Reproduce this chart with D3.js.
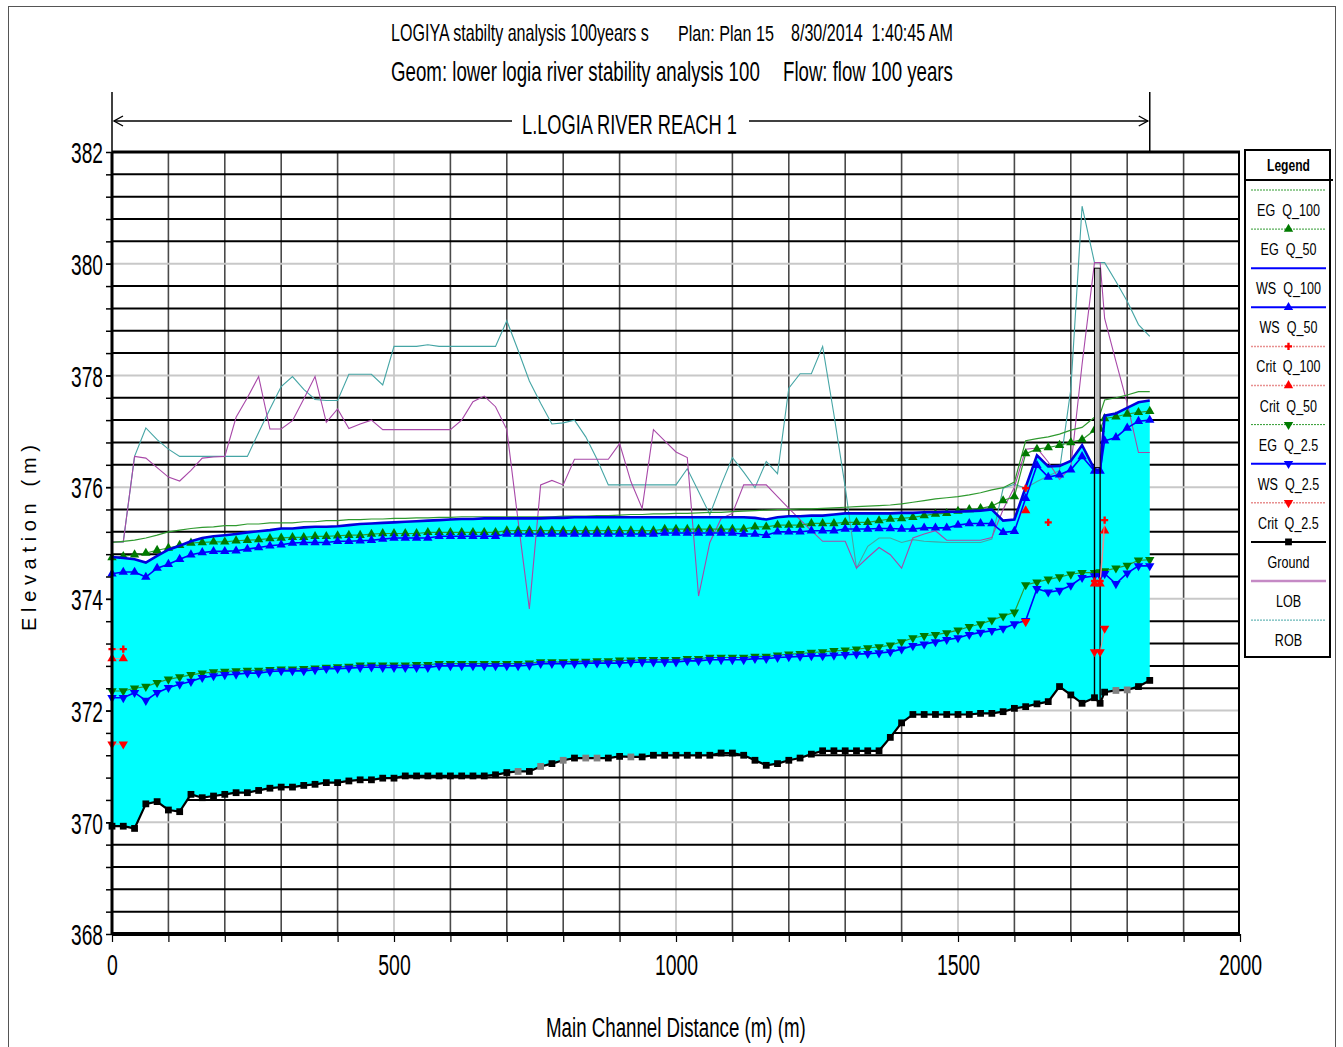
<!DOCTYPE html>
<html><head><meta charset="utf-8">
<script src="https://cdn.jsdelivr.net/npm/d3@7"></script>
<style>
body{margin:0;background:#fff;}
svg{display:block;}
text{font-family:"Liberation Sans",Arial,sans-serif;fill:#000;}
</style></head><body>
<svg id="chart" width="1343" height="1047"></svg>
<script>
// River stations along the main channel (m)
const stations = [
  0,20,40,60,80,100,120,140,160,180,
  200,220,240,260,280,300,320,340,360,380,
  400,420,440,460,480,500,520,540,560,580,
  600,620,640,660,680,700,720,740,760,780,
  800,820,840,860,880,900,920,940,960,980,
  1000,1020,1040,1060,1080,1100,1120,1140,1160,1180,
  1200,1220,1240,1260,1280,1300,1320,1340,1360,1380,
  1400,1420,1440,1460,1480,1500,1520,1540,1560,1580,
  1600,1620,1640,1660,1680,1700,1720,1742,1752,1760,
  1780,1800,1820,1840];

// Channel invert (m)
const ground = [
  369.93,369.93,369.89,370.33,370.37,370.22,370.19,370.50,370.44,370.47,
  370.50,370.53,370.53,370.57,370.61,370.63,370.63,370.66,370.68,370.71,
  370.71,370.74,370.76,370.76,370.79,370.79,370.83,370.83,370.83,370.83,
  370.83,370.83,370.83,370.83,370.85,370.89,370.91,370.91,371.00,371.05,
  371.11,371.15,371.15,371.15,371.15,371.18,371.17,371.17,371.20,371.20,
  371.20,371.20,371.20,371.20,371.24,371.24,371.20,371.11,371.02,371.05,
  371.11,371.15,371.22,371.28,371.28,371.28,371.28,371.28,371.28,371.52,
  371.78,371.93,371.93,371.93,371.93,371.93,371.93,371.95,371.95,371.98,
  372.04,372.07,372.12,372.16,372.43,372.28,372.13,372.23,372.13,372.33,
  372.36,372.37,372.43,372.54];

// Interpolated cross sections (drawn with grey ground markers)
const interpolatedSections = [720,760,800,840,860,920,1780,1800];

// Water surface, Q_100 (m)
const wsQ100 = [
  374.75,374.73,374.71,374.65,374.77,374.88,374.95,375.03,375.09,375.12,
  375.14,375.16,375.19,375.21,375.23,375.26,375.26,375.28,375.29,375.29,
  375.30,375.32,375.34,375.35,375.36,375.37,375.38,375.39,375.40,375.41,
  375.42,375.43,375.43,375.44,375.44,375.44,375.44,375.44,375.44,375.45,
  375.45,375.46,375.46,375.46,375.46,375.46,375.46,375.46,375.46,375.46,
  375.46,375.46,375.46,375.46,375.46,375.46,375.46,375.45,375.42,375.46,
  375.48,375.48,375.49,375.49,375.51,375.53,375.53,375.53,375.53,375.53,
  375.54,375.54,375.55,375.55,375.56,375.56,375.57,375.58,375.60,375.40,
  375.42,376.00,376.57,376.37,376.38,376.47,376.75,376.32,376.30,377.28,
  377.32,377.42,377.52,377.55];

// Energy grade, Q_100 (m)
const egQ100 = [
  375.01,375.03,375.05,375.09,375.14,375.20,375.23,375.26,375.28,375.29,
  375.31,375.31,375.34,375.34,375.36,375.36,375.36,375.38,375.38,375.40,
  375.40,375.42,375.42,375.43,375.43,375.44,375.44,375.45,375.45,375.46,
  375.46,375.47,375.47,375.47,375.47,375.47,375.47,375.47,375.47,375.47,
  375.48,375.48,375.48,375.49,375.49,375.50,375.51,375.51,375.52,375.52,
  375.53,375.53,375.54,375.55,375.55,375.56,375.57,375.58,375.59,375.60,
  375.60,375.61,375.61,375.62,375.63,375.64,375.65,375.66,375.67,375.68,
  375.70,375.73,375.76,375.79,375.81,375.83,375.86,375.90,375.95,375.99,
  376.09,376.83,376.87,376.90,376.95,377.02,377.07,377.25,377.31,377.56,
  377.60,377.65,377.71,377.71];

// Energy grade, Q_50 (m)
const egQ50 = [
  374.74,374.76,374.79,374.82,374.87,374.91,374.96,375.00,375.01,375.02,
  375.02,375.04,375.05,375.06,375.08,375.09,375.10,375.10,375.12,375.12,
  375.13,375.14,375.14,375.16,375.17,375.17,375.17,375.17,375.19,375.19,
  375.19,375.19,375.19,375.19,375.19,375.22,375.22,375.22,375.22,375.22,
  375.22,375.22,375.22,375.22,375.22,375.22,375.22,375.22,375.22,375.25,
  375.25,375.25,375.25,375.25,375.25,375.25,375.25,375.29,375.29,375.32,
  375.32,375.32,375.35,375.35,375.35,375.37,375.37,375.37,375.40,375.43,
  375.44,375.46,375.49,375.52,375.53,375.57,375.60,375.62,375.66,375.76,
  375.83,376.60,376.68,376.71,376.75,376.80,376.85,377.02,377.04,377.23,
  377.26,377.31,377.34,377.36];

// Water surface, Q_50 (m)
const wsQ50 = [
  374.45,374.48,374.48,374.39,374.55,374.62,374.71,374.79,374.83,374.85,
  374.85,374.86,374.89,374.92,374.95,374.97,375.00,375.01,375.01,375.01,
  375.03,375.03,375.04,375.05,375.07,375.09,375.09,375.09,375.09,375.12,
  375.12,375.12,375.12,375.12,375.12,375.16,375.16,375.16,375.16,375.16,
  375.16,375.16,375.16,375.16,375.16,375.16,375.16,375.16,375.16,375.18,
  375.18,375.18,375.18,375.18,375.18,375.18,375.16,375.16,375.14,375.20,
  375.20,375.20,375.22,375.22,375.22,375.25,375.25,375.25,375.26,375.26,
  375.25,375.25,375.27,375.27,375.27,375.32,375.35,375.35,375.35,375.19,
  375.21,375.80,376.39,376.18,376.22,376.31,376.55,376.29,376.29,376.83,
  376.89,377.06,377.18,377.20];

// Energy grade, Q_2.5 (m)
const egQ25 = [
  372.35,372.35,372.40,372.43,372.50,372.56,372.60,372.64,372.67,372.69,
  372.70,372.71,372.72,372.72,372.73,372.74,372.74,372.75,372.76,372.77,
  372.78,372.79,372.81,372.81,372.81,372.81,372.81,372.82,372.82,372.84,
  372.84,372.84,372.84,372.84,372.84,372.84,372.84,372.85,372.87,372.87,
  372.87,372.88,372.88,372.89,372.89,372.90,372.90,372.91,372.91,372.91,
  372.91,372.93,372.93,372.95,372.95,372.95,372.95,372.97,372.97,372.99,
  373.01,373.02,373.04,373.05,373.07,373.08,373.10,373.12,373.14,373.17,
  373.23,373.30,373.34,373.36,373.39,373.44,373.50,373.55,373.62,373.69,
  373.76,374.25,374.30,374.35,374.39,374.44,374.47,374.47,374.48,374.50,
  374.55,374.60,374.69,374.70];

// Water surface, Q_2.5 (m)
const wsQ25 = [
  372.23,372.23,372.32,372.18,372.32,372.41,372.47,372.52,372.59,372.62,
  372.64,372.65,372.67,372.67,372.70,372.71,372.71,372.71,372.73,372.75,
  372.75,372.76,372.77,372.78,372.77,372.77,372.77,372.77,372.77,372.80,
  372.80,372.80,372.80,372.80,372.80,372.80,372.80,372.81,372.84,372.84,
  372.84,372.84,372.85,372.85,372.85,372.85,372.86,372.87,372.87,372.87,
  372.87,372.89,372.89,372.91,372.91,372.91,372.91,372.93,372.93,372.95,
  372.96,372.97,372.98,372.98,372.99,373.00,373.01,373.02,373.03,373.05,
  373.10,373.16,373.19,373.23,373.27,373.30,373.36,373.40,373.43,373.47,
  373.55,373.61,374.18,374.12,374.15,374.24,374.38,374.41,374.41,374.45,
  374.27,374.46,374.59,374.59];

// Critical depth elevations, only where computed
const critQ100Stations = [0,20,1620,1660,1742,1752,1760];
const critQ100 = [373.10,373.10,375.98,375.37,374.32,374.32,375.41];
const critQ50Stations = [0,20,1620,1742,1752,1760];
const critQ50 = [372.93,372.93,375.58,374.27,374.27,375.22];
const critQ25Stations = [0,20,1620,1742,1752,1760];
const critQ25 = [371.40,371.40,373.59,373.05,373.05,373.47];

// Left and right overbank stations (m)
const lob = [
  375.02,375.02,376.55,376.52,376.35,376.18,376.11,376.30,376.52,376.54,
  376.55,377.25,377.60,377.98,377.04,377.04,377.19,377.58,377.98,377.16,
  377.40,377.05,377.13,377.20,377.03,377.03,377.03,377.03,377.03,377.03,
  377.03,377.20,377.53,377.63,377.44,377.03,375.40,373.82,376.04,376.12,
  376.04,376.50,376.50,376.50,376.50,376.78,376.10,375.62,377.03,376.83,
  376.63,376.53,374.05,375.01,375.44,375.53,376.04,376.04,376.04,375.83,
  375.62,375.42,375.22,375.03,375.03,375.03,374.55,374.74,374.92,374.79,
  374.55,375.09,375.16,375.22,375.05,375.05,375.05,375.05,375.10,375.60,
  376.00,376.68,376.70,376.45,376.14,376.35,378.20,380.02,380.02,379.02,
  378.25,377.50,376.62,376.62];
const rob = [
  375.02,375.02,376.55,377.06,376.85,376.68,376.55,376.55,376.55,376.55,
  376.55,376.55,376.55,376.98,377.40,377.80,377.98,377.75,377.57,377.55,
  377.55,378.02,378.02,378.02,377.83,378.52,378.52,378.52,378.55,378.52,
  378.52,378.52,378.52,378.52,378.52,378.98,378.45,377.90,377.50,377.13,
  377.15,377.20,376.90,376.50,376.04,376.04,376.04,376.04,376.04,376.04,
  376.04,376.33,375.92,375.51,376.04,376.53,376.27,375.99,376.46,376.24,
  377.77,378.03,378.03,378.52,377.30,376.00,374.55,374.94,375.09,375.09,
  375.01,375.06,375.03,375.02,375.01,375.01,375.01,375.01,375.07,375.98,
  376.05,375.98,376.10,376.20,376.30,377.75,381.03,380.02,380.02,380.02,
  379.68,379.33,378.91,378.70];

// Bridge deck (faces at two stations)
const bridgeStations = [1742, 1752];
const bridgeChords = [376.35, 379.92]; // low chord, high chord

// Axis ticks
const xTicks = [0, 500, 1000, 1500, 2000];
const yTicks = [368, 370, 372, 374, 376, 378, 380, 382];

const legendLabels = ["EG  Q_100","EG  Q_50","WS  Q_100","WS  Q_50","Crit  Q_100","Crit  Q_50",
  "EG  Q_2.5","WS  Q_2.5","Crit  Q_2.5","Ground","LOB","ROB"];

// ---------------------------------------------------------------
const svg = d3.select("#chart");
const x = d3.scaleLinear().domain([0, 2000]).range([112, 1240]);
const y = d3.scaleLinear().domain([368, 382]).range([934, 152]);
const X0 = x(0), X1 = x(2000), Y0 = y(368), Y1 = y(382);

const GREEN = "#007a00", EGLINE = "#2f9a2f", BLUE = "#0000ff", RED = "#ff0000";
const CRITLINE = "#e89090", LOBC = "#a848a8", ROBC = "#45a5a5";

// squeeze a text element horizontally so it spans `width` pixels
function squeeze(el, width, ox, oy) {
  const w = el.node().getComputedTextLength();
  el.attr("x", 0).attr("y", 0)
    .attr("transform", `translate(${ox},${oy}) scale(${width / w},1)`);
}
function txt(t, x0, x1, yb, fs, weight) {
  const el = svg.append("text").attr("font-size", fs)
    .attr("font-weight", weight || "normal").attr("xml:space", "preserve").text(t);
  squeeze(el, x1 - x0, x0, yb);
  return el;
}

// outer frame
svg.append("rect").attr("x", 8.5).attr("y", 6.5).attr("width", 1327).attr("height", 1050)
  .attr("fill", "none").attr("stroke", "#555").attr("stroke-width", 1);

// ---- grid ----
const grid = svg.append("g");
const xMinor = d3.range(100, 2000, 100);
grid.selectAll(".vg").data(xMinor).join("line")
  .attr("x1", d => x(d)).attr("x2", d => x(d)).attr("y1", Y1).attr("y2", Y0)
  .attr("stroke", d => d % 500 === 0 ? "#cdcdcd" : "#4a4a4a")
  .attr("stroke-width", d => d % 500 === 0 ? 2 : 1.6);
const yMinor = d3.range(1, 35).map(i => 368 + i * 0.4);
const isMajor = d => Math.abs(d / 2 - Math.round(d / 2)) < 1e-6;
grid.selectAll(".hg").data(yMinor).join("line")
  .attr("x1", X0).attr("x2", X1).attr("y1", d => y(d)).attr("y2", d => y(d))
  .attr("stroke", d => isMajor(d) ? "#c8c8c8" : "#000")
  .attr("stroke-width", 2);
// right border
grid.append("line").attr("x1", X1 - 1).attr("x2", X1 - 1).attr("y1", Y1).attr("y2", Y0)
  .attr("stroke", "#000").attr("stroke-width", 2);

const rows = stations.map((s, i) => ({
  s, g: ground[i], ws100: wsQ100[i], eg100: egQ100[i], eg50: egQ50[i], ws50: wsQ50[i],
  eg25: egQ25[i], ws25: wsQ25[i], lob: lob[i], rob: rob[i]
}));

// ---- water fill Q_100 ----
svg.append("path").datum(rows)
  .attr("d", d3.area().x(d => x(d.s)).y0(d => y(d.g)).y1(d => y(d.ws100)))
  .attr("fill", "#00ffff").attr("stroke", "none");

// bank lines
const lineOf = key => d3.line().x(d => x(d.s)).y(d => y(d[key]));
svg.append("path").datum(rows).attr("d", lineOf("rob"))
  .attr("fill", "none").attr("stroke", ROBC).attr("stroke-width", 1.1);
svg.append("path").datum(rows).attr("d", lineOf("lob"))
  .attr("fill", "none").attr("stroke", LOBC).attr("stroke-width", 1.1);

// EG Q_100
svg.append("path").datum(rows).attr("d", lineOf("eg100"))
  .attr("fill", "none").attr("stroke", EGLINE).attr("stroke-width", 1.2);

// marker helpers
const triUp = d3.symbol().type(d3.symbolTriangle).size(38)();
const sq = d3.symbol().type(d3.symbolSquare).size(46)();
const plus = d3.symbol().type(d3.symbolCross).size(28)();
function markers(g, data, xs, ys, path, color, rot) {
  g.selectAll(null).data(data).join("path")
    .attr("d", path)
    .attr("transform", d => `translate(${xs(d)},${ys(d)})` + (rot ? " rotate(180)" : ""))
    .attr("fill", color).attr("stroke", "none");
}

// Q_2.5 profiles
svg.append("path").datum(rows).attr("d", lineOf("eg25"))
  .attr("fill", "none").attr("stroke", EGLINE).attr("stroke-width", 1.2);
svg.append("path").datum(rows).attr("d", lineOf("ws25"))
  .attr("fill", "none").attr("stroke", BLUE).attr("stroke-width", 1.6);
markers(svg.append("g"), rows, d => x(d.s), d => y(d.eg25), triUp, GREEN, true);
markers(svg.append("g"), rows, d => x(d.s), d => y(d.ws25), triUp, BLUE, true);

// Q_50 profiles
svg.append("path").datum(rows).attr("d", lineOf("eg50"))
  .attr("fill", "none").attr("stroke", EGLINE).attr("stroke-width", 1.2);
svg.append("path").datum(rows).attr("d", lineOf("ws50"))
  .attr("fill", "none").attr("stroke", BLUE).attr("stroke-width", 1.6);
markers(svg.append("g"), rows, d => x(d.s), d => y(d.eg50), triUp, GREEN, false);
markers(svg.append("g"), rows, d => x(d.s), d => y(d.ws50), triUp, BLUE, false);

// WS Q_100 (edge of the water fill)
svg.append("path").datum(rows).attr("d", lineOf("ws100"))
  .attr("fill", "none").attr("stroke", "#0000dd").attr("stroke-width", 2.6);

// ground
svg.append("path").datum(rows).attr("d", lineOf("g"))
  .attr("fill", "none").attr("stroke", "#000").attr("stroke-width", 2.2);
markers(svg.append("g"), rows, d => x(d.s), d => y(d.g), sq,
  d => interpolatedSections.includes(d.s) ? "#808080" : "#000", false);

// bridge
const bg = svg.append("g");
bridgeStations.forEach(s => {
  const gi = stations.indexOf(s);
  bg.append("line").attr("x1", x(s)).attr("x2", x(s))
    .attr("y1", y(bridgeChords[0])).attr("y2", y(ground[gi]))
    .attr("stroke", "#000").attr("stroke-width", 1.4);
});
bg.append("rect").attr("x", x(bridgeStations[0])).attr("y", y(bridgeChords[1]))
  .attr("width", x(bridgeStations[1]) - x(bridgeStations[0]))
  .attr("height", y(bridgeChords[0]) - y(bridgeChords[1]))
  .attr("fill", "#c0c0c0").attr("stroke", "#000").attr("stroke-width", 1);

// critical depth
function critSeries(st, vals, path, rot) {
  const pts = st.map((s, i) => ({ s, v: vals[i], k: stations.indexOf(s) }));
  const segs = [];
  pts.forEach((p, i) => {
    if (i > 0 && pts[i - 1].k === p.k - 1) segs.push([pts[i - 1], p]);
  });
  svg.append("g").selectAll("path").data(segs).join("path")
    .attr("d", d3.line().x(d => x(d.s)).y(d => y(d.v)))
    .attr("fill", "none").attr("stroke", CRITLINE).attr("stroke-width", 1);
  markers(svg.append("g"), pts, d => x(d.s), d => y(d.v), path, RED, rot);
}
critSeries(critQ25Stations, critQ25, triUp, true);
critSeries(critQ50Stations, critQ50, triUp, false);
critSeries(critQ100Stations, critQ100, plus, false);

// ---- axes ----
svg.append("line").attr("x1", X0).attr("x2", X0).attr("y1", 92).attr("y2", Y1)
  .attr("stroke", "#000").attr("stroke-width", 1.5);
svg.append("line").attr("x1", X0).attr("x2", X0).attr("y1", Y1).attr("y2", Y0 + 1)
  .attr("stroke", "#000").attr("stroke-width", 3);
svg.append("line").attr("x1", x(1840)).attr("x2", x(1840)).attr("y1", 92).attr("y2", Y1)
  .attr("stroke", "#000").attr("stroke-width", 1.5);
svg.append("line").attr("x1", X0).attr("x2", X1).attr("y1", Y1).attr("y2", Y1)
  .attr("stroke", "#000").attr("stroke-width", 3);
svg.append("line").attr("x1", X0).attr("x2", X1).attr("y1", Y0).attr("y2", Y0)
  .attr("stroke", "#000").attr("stroke-width", 4);

const yAxis = svg.append("g").attr("transform", `translate(${X0},0)`)
  .call(d3.axisLeft(y).tickValues(yTicks.concat(yMinor)).tickSize(6).tickFormat(""));
yAxis.select(".domain").remove();
yAxis.selectAll("line").attr("stroke", "#000").attr("stroke-width", 1.5);
const yLab = svg.append("g").attr("transform", `translate(${X0},0)`)
  .call(d3.axisLeft(y).tickValues(yTicks).tickSize(0).tickPadding(8).tickFormat(d3.format("d")));
yLab.select(".domain").remove();
yLab.selectAll("text").attr("font-size", 30).attr("dy", "0.36em").each(function () {
  const el = d3.select(this);
  const w = this.getComputedTextLength();
  el.attr("x", 0).attr("transform", `translate(-9,0) scale(${32 / w},1)`);
});

const xAxis = svg.append("g").attr("transform", `translate(0,${Y0})`)
  .call(d3.axisBottom(x).tickValues(d3.range(0, 2001, 100)).tickSize(8).tickFormat(""));
xAxis.select(".domain").remove();
xAxis.selectAll("line").attr("stroke", "#000").attr("stroke-width", 1.2);
const xLab = svg.append("g").attr("transform", `translate(0,${Y0})`)
  .call(d3.axisBottom(x).tickValues(xTicks).tickSize(0).tickPadding(20).tickFormat(d3.format("d")));
xLab.select(".domain").remove();
xLab.selectAll("text").attr("font-size", 30).attr("dy", "0.71em").each(function (d) {
  const w = this.getComputedTextLength();
  d3.select(this).attr("transform", `scale(${(String(d).length * 10.8) / w},1)`);
});

// axis titles
txt("Main Channel Distance (m) (m)", 546, 806, 1037, 28);
svg.append("text").attr("transform", "translate(36,538) rotate(-90)").attr("text-anchor", "middle")
  .attr("font-size", 20).attr("textLength", 186).attr("lengthAdjust", "spacing")
  .text("Elevation (m)");

// titles
txt("LOGIYA stabilty analysis 100years s", 391, 649, 41, 23);
txt("Plan: Plan 15", 678, 774, 41, 23);
txt("8/30/2014  1:40:45 AM", 791, 953, 41, 23);
txt("Geom: lower logia river stability analysis 100", 391, 760, 81, 28);
txt("Flow: flow 100 years", 783, 953, 81, 28);

// reach marker
const reachY = 121;
const reach = svg.append("g").attr("stroke", "#000").attr("stroke-width", 1.4).attr("fill", "none");
reach.append("line").attr("x1", X0 + 2).attr("x2", 512).attr("y1", reachY).attr("y2", reachY);
reach.append("line").attr("x1", 749).attr("x2", x(1840) - 2).attr("y1", reachY).attr("y2", reachY);
reach.append("path").attr("d", `M${X0 + 11},${reachY - 5}L${X0 + 2},${reachY}L${X0 + 11},${reachY + 5}`);
const xr = x(1840);
reach.append("path").attr("d", `M${xr - 11},${reachY - 5}L${xr - 2},${reachY}L${xr - 11},${reachY + 5}`);
txt("L.LOGIA RIVER REACH 1", 522, 737, 134, 27);

// ---- legend ----
const lg = svg.append("g");
lg.append("rect").attr("x", 1245).attr("y", 150).attr("width", 85).attr("height", 507)
  .attr("fill", "#fff").attr("stroke", "#000").attr("stroke-width", 2);
lg.append("line").attr("x1", 1245).attr("x2", 1333).attr("y1", 180).attr("y2", 180)
  .attr("stroke", "#000").attr("stroke-width", 2);
const head = lg.append("text").attr("font-size", 17).attr("font-weight", "bold").text("Legend");
squeeze(head, 43, 1267, 171);
const legendStyle = [
  { c: EGLINE, w: 1, dash: "2,1", m: null },
  { c: EGLINE, w: 1, dash: "2,1", m: "up", mc: GREEN },
  { c: BLUE, w: 2, dash: null, m: null },
  { c: BLUE, w: 2, dash: null, m: "up", mc: BLUE },
  { c: CRITLINE, w: 1.5, dash: "2,1", m: "plus", mc: RED },
  { c: CRITLINE, w: 1.5, dash: "2,1", m: "up", mc: RED },
  { c: EGLINE, w: 1, dash: "2,1", m: "down", mc: GREEN },
  { c: BLUE, w: 2, dash: null, m: "down", mc: BLUE },
  { c: CRITLINE, w: 1.5, dash: "2,1", m: "down", mc: RED },
  { c: "#000", w: 2, dash: null, m: "sq", mc: "#000" },
  { c: "#c58ac5", w: 2.5, dash: null, m: null },
  { c: "#6ab8b8", w: 1.2, dash: "2,1", m: null }
];
legendLabels.forEach((lab, i) => {
  const ly = 190 + i * 39.1;
  const st = legendStyle[i];
  lg.append("line").attr("x1", 1251).attr("x2", 1326).attr("y1", ly).attr("y2", ly)
    .attr("stroke", st.c).attr("stroke-width", st.w).attr("stroke-dasharray", st.dash);
  if (st.m) {
    const p = st.m === "sq" ? sq : st.m === "plus" ? plus : triUp;
    lg.append("path").attr("d", p)
      .attr("transform", `translate(1288.5,${ly})` + (st.m === "down" ? " rotate(180)" : ""))
      .attr("fill", st.mc);
  }
  const t = lg.append("text").attr("font-size", 17).attr("xml:space", "preserve").text(lab);
  const w = t.node().getComputedTextLength() * 0.74;
  squeeze(t, w, 1288.5 - w / 2, ly + 26);
});
</script>
</body></html>
